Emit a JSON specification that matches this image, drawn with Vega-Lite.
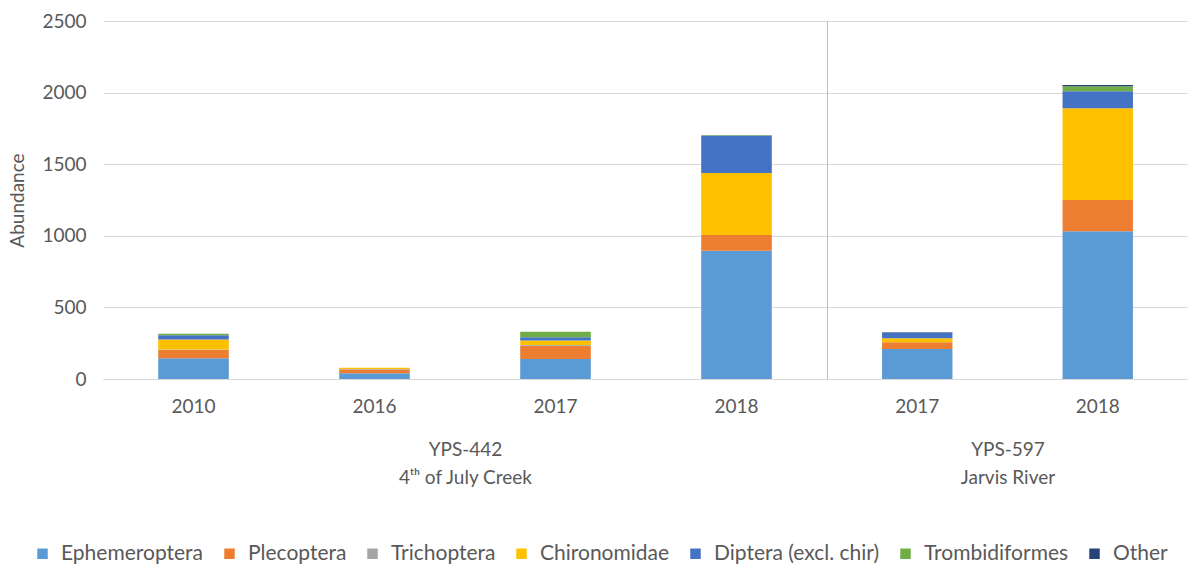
{
  "$schema": "https://vega.github.io/schema/vega-lite/v6.json",
  "background": "white",
  "padding": {"left": 8, "top": 12, "right": 0, "bottom": 5},
  "spacing": 0,
  "config": {
    "font": "Lato",
    "view": {"stroke": null},
    "axis": {
      "labelFont": "Lato", "titleFont": "Lato",
      "labelColor": "#595959", "titleColor": "#595959",
      "labelFontSize": 19, "titleFontSize": 19, "titleFontWeight": "normal",
      "gridColor": "#d9d9d9", "domainColor": "#d9d9d9",
      "ticks": false, "tickSize": 0, "titleLineHeight": 28
    },
    "legend": {
      "labelFont": "Lato", "labelFontSize": 21, "labelColor": "#595959", "labelLimit": 400,
      "symbolType": "square", "symbolSize": 110, "symbolStrokeWidth": 0,
      "columnPadding": 15, "labelOffset": 8
    }
  },
  "data": {"values": [
    {"site": "YPS-442", "year": "2010", "series": 1, "taxon": "Ephemeroptera", "abundance": 145},
    {"site": "YPS-442", "year": "2010", "series": 2, "taxon": "Plecoptera", "abundance": 58},
    {"site": "YPS-442", "year": "2010", "series": 3, "taxon": "Trichoptera", "abundance": 3},
    {"site": "YPS-442", "year": "2010", "series": 4, "taxon": "Chironomidae", "abundance": 70},
    {"site": "YPS-442", "year": "2010", "series": 5, "taxon": "Diptera (excl. chir)", "abundance": 30},
    {"site": "YPS-442", "year": "2010", "series": 6, "taxon": "Trombidiformes", "abundance": 10},
    {"site": "YPS-442", "year": "2016", "series": 1, "taxon": "Ephemeroptera", "abundance": 40},
    {"site": "YPS-442", "year": "2016", "series": 2, "taxon": "Plecoptera", "abundance": 27},
    {"site": "YPS-442", "year": "2016", "series": 3, "taxon": "Trichoptera", "abundance": 2},
    {"site": "YPS-442", "year": "2016", "series": 4, "taxon": "Chironomidae", "abundance": 10},
    {"site": "YPS-442", "year": "2017", "series": 1, "taxon": "Ephemeroptera", "abundance": 140},
    {"site": "YPS-442", "year": "2017", "series": 2, "taxon": "Plecoptera", "abundance": 93},
    {"site": "YPS-442", "year": "2017", "series": 3, "taxon": "Trichoptera", "abundance": 5},
    {"site": "YPS-442", "year": "2017", "series": 4, "taxon": "Chironomidae", "abundance": 30},
    {"site": "YPS-442", "year": "2017", "series": 5, "taxon": "Diptera (excl. chir)", "abundance": 24},
    {"site": "YPS-442", "year": "2017", "series": 6, "taxon": "Trombidiformes", "abundance": 38},
    {"site": "YPS-442", "year": "2018", "series": 1, "taxon": "Ephemeroptera", "abundance": 896},
    {"site": "YPS-442", "year": "2018", "series": 2, "taxon": "Plecoptera", "abundance": 110},
    {"site": "YPS-442", "year": "2018", "series": 4, "taxon": "Chironomidae", "abundance": 433},
    {"site": "YPS-442", "year": "2018", "series": 5, "taxon": "Diptera (excl. chir)", "abundance": 262},
    {"site": "YPS-442", "year": "2018", "series": 6, "taxon": "Trombidiformes", "abundance": 3},
    {"site": "YPS-597", "year": "2017", "series": 1, "taxon": "Ephemeroptera", "abundance": 210},
    {"site": "YPS-597", "year": "2017", "series": 2, "taxon": "Plecoptera", "abundance": 47},
    {"site": "YPS-597", "year": "2017", "series": 4, "taxon": "Chironomidae", "abundance": 28},
    {"site": "YPS-597", "year": "2017", "series": 5, "taxon": "Diptera (excl. chir)", "abundance": 38},
    {"site": "YPS-597", "year": "2017", "series": 7, "taxon": "Other", "abundance": 4},
    {"site": "YPS-597", "year": "2018", "series": 1, "taxon": "Ephemeroptera", "abundance": 1031},
    {"site": "YPS-597", "year": "2018", "series": 2, "taxon": "Plecoptera", "abundance": 219},
    {"site": "YPS-597", "year": "2018", "series": 4, "taxon": "Chironomidae", "abundance": 640},
    {"site": "YPS-597", "year": "2018", "series": 5, "taxon": "Diptera (excl. chir)", "abundance": 120},
    {"site": "YPS-597", "year": "2018", "series": 6, "taxon": "Trombidiformes", "abundance": 35},
    {"site": "YPS-597", "year": "2018", "series": 7, "taxon": "Other", "abundance": 8}
  ]},
  "hconcat": [
    {
      "width": 724, "height": 358,
      "transform": [{"filter": "datum.site === 'YPS-442'"}],
      "mark": {"type": "bar"},
      "encoding": {
        "x": {"field": "year", "type": "ordinal",
          "scale": {"paddingInner": 0.61, "paddingOuter": 0.305},
          "axis": {"title": ["YPS-442", "4ᵗʰ of July Creek"], "labelAngle": 0, "labelPadding": 18, "titlePadding": 24, "grid": false}},
        "y": {"field": "abundance", "type": "quantitative", "stack": "zero",
          "scale": {"domain": [0, 2500]},
          "axis": {"title": "Abundance", "format": "d", "values": [0, 500, 1000, 1500, 2000, 2500], "domain": false, "labelPadding": 17, "titlePadding": 14}},
        "order": {"field": "series", "type": "quantitative", "sort": "ascending"},
        "color": {"field": "taxon", "type": "nominal",
          "sort": ["Ephemeroptera", "Plecoptera", "Trichoptera", "Chironomidae", "Diptera (excl. chir)", "Trombidiformes", "Other"],
          "scale": {"domain": ["Ephemeroptera", "Plecoptera", "Trichoptera", "Chironomidae", "Diptera (excl. chir)", "Trombidiformes", "Other"],
                    "range": ["#5B9BD5", "#ED7D31", "#A5A5A5", "#FFC000", "#4472C4", "#70AD47", "#264478"]},
          "legend": {"title": null, "orient": "none", "direction": "horizontal", "legendX": -71, "legendY": 522}}
      }
    },
    {
      "width": 361, "height": 358,
      "transform": [{"filter": "datum.site === 'YPS-597'"}],
      "mark": {"type": "bar"},
      "encoding": {
        "x": {"field": "year", "type": "ordinal",
          "scale": {"paddingInner": 0.61, "paddingOuter": 0.305},
          "axis": {"title": ["YPS-597", "Jarvis River"], "labelAngle": 0, "labelPadding": 18, "titlePadding": 24, "grid": false}},
        "y": {"field": "abundance", "type": "quantitative", "stack": "zero",
          "scale": {"domain": [0, 2500]},
          "axis": {"title": null, "labels": false, "values": [0, 500, 1000, 1500, 2000, 2500], "domain": true, "domainColor": "#bfbfbf"}},
        "order": {"field": "series", "type": "quantitative", "sort": "ascending"},
        "color": {"field": "taxon", "type": "nominal",
          "sort": ["Ephemeroptera", "Plecoptera", "Trichoptera", "Chironomidae", "Diptera (excl. chir)", "Trombidiformes", "Other"],
          "scale": {"domain": ["Ephemeroptera", "Plecoptera", "Trichoptera", "Chironomidae", "Diptera (excl. chir)", "Trombidiformes", "Other"],
                    "range": ["#5B9BD5", "#ED7D31", "#A5A5A5", "#FFC000", "#4472C4", "#70AD47", "#264478"]},
          "legend": {"title": null, "orient": "none", "direction": "horizontal", "legendX": -71, "legendY": 522}}
      }
    }
  ],
  "resolve": {"scale": {"color": "shared"}}
}
